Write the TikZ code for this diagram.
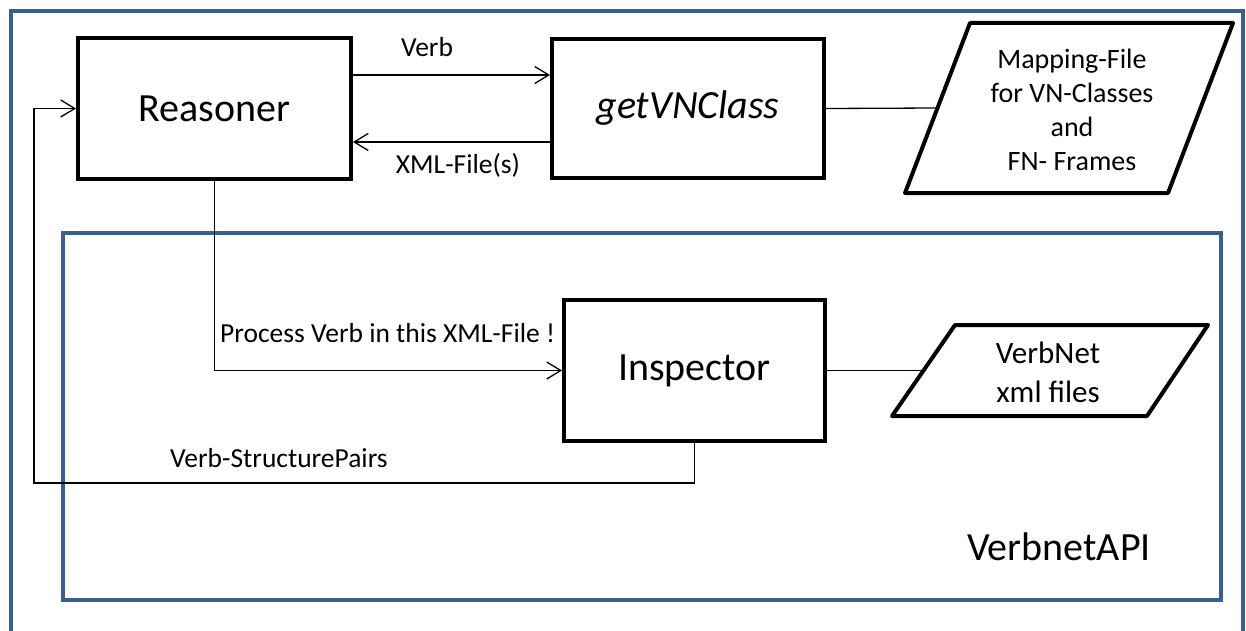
\documentclass[tikz,border=0pt]{standalone}
\usepackage{fontspec}
\setmainfont{Carlito}
\usetikzlibrary{arrows.meta,calc}
\definecolor{frameblue}{RGB}{58,95,142}
\tikzset{
  block/.style={draw=black, line width=4pt, fill=white, inner sep=0pt,
    font=\fontsize{40}{48}\selectfont},
  link/.style={draw=black, line width=1.3pt},
  arr/.style={link, -{Straight Barb[length=14pt,width=17pt,line width=1.3pt]}},
  lbl/.style={inner sep=0pt, font=\fontsize{27.5}{33}\selectfont},
  datafile/.style={draw=black, line width=4pt, line join=round, fill=white},
  groupbox/.style={draw=frameblue, line width=4pt},
}
\begin{document}
\begin{tikzpicture}[x=1pt,y=-1pt]
  \useasboundingbox (0,0) rectangle (1246,631);
  \fill[white] (0,0) rectangle (1246,631);

  % outer frame (runs past the lower edge of the page)
  \begin{scope}
    \clip (0,0) rectangle (1246,631);
    \draw[groupbox, line width=3.5pt] (11,660) -- (11,11) -- (1243,11) -- (1243,660);
  \end{scope}

  % VerbnetAPI group
  \draw[groupbox] (63,233) rectangle (1221,600);
  \node[inner sep=0pt, font=\fontsize{40}{48}\selectfont] (api) at (1059,547) {VerbnetAPI};

  % main blocks
  \node[block, minimum width=273pt, minimum height=141pt] (reasoner) at (214.5,108.5) {Reasoner};
  \node[block, minimum width=272pt, minimum height=139pt] (getvn) at (688,108.5) {\itshape getVNClass};
  \node[block, minimum width=261pt, minimum height=141pt] (inspector) at (694.5,370.5) {Inspector};

  % data files
  \draw[datafile] (905,193) -- (970,23) -- (1233,23) -- (1168,193) -- cycle;
  \coordinate (mapin) at (937.5,108);
  \node[inner sep=0pt, align=center, font=\fontsize{28}{34}\selectfont] (mapping) at (1072,110)
    {Mapping-File\\for VN-Classes\\and\\FN- Frames};

  \draw[datafile] (892,416) -- (955,325) -- (1208,325) -- (1147,416) -- cycle;
  \coordinate (vnin) at (923.5,370.5);
  \node[inner sep=0pt, align=center, font=\fontsize{31}{39}\selectfont] (verbnet) at (1048,372)
    {VerbNet\\xml files};

  % connectors
  \draw[arr] ([yshift=33.5pt]reasoner.east) -- ([yshift=33.5pt]getvn.west);
  \draw[arr] ([yshift=-33.5pt]getvn.west) -- ([yshift=-33.5pt]reasoner.east);
  \draw[link] (getvn.east) -- (mapin);
  \draw[arr] (reasoner.south) |- (inspector.west);
  \draw[link] (inspector.east) -- (vnin);
  \coordinate (ret) at (34,483);
  \draw[arr] (inspector.south) |- (ret) |- (reasoner.west);

  % connector labels
  \node[lbl] (verblbl) at (427,47) {Verb};
  \node[lbl] (xmllbl) at (458,165) {XML-File(s)};
  \node[lbl, anchor=west] (proclbl) at (220,333) {Process Verb in this XML-File !};
  \node[lbl, anchor=west] (pairslbl) at (170,458) {Verb-StructurePairs};
\end{tikzpicture}
\end{document}
